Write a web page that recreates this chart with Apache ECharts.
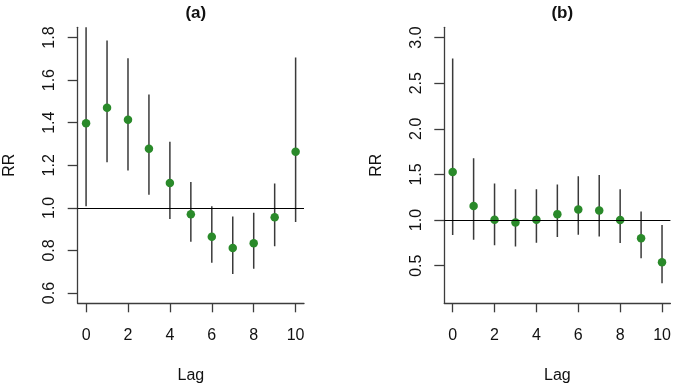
<!DOCTYPE html>
<html><head><meta charset="utf-8">
<script src="https://cdn.jsdelivr.net/npm/echarts@6/dist/echarts.min.js"></script>
<style>html,body{margin:0;padding:0;background:#fff}#c{width:673px;height:385px}</style>
</head><body><div id="c"></div>
<script>
const lags = [0,1,2,3,4,5,6,7,8,9,10];
const rrA = [1.397,1.470,1.414,1.278,1.117,0.970,0.864,0.812,0.834,0.956,1.264];
const loA = [1.008,1.214,1.176,1.062,0.948,0.841,0.742,0.689,0.714,0.820,0.934];
const hiA = [1.930,1.786,1.703,1.533,1.311,1.122,1.008,0.959,0.977,1.115,1.706];
const rrB = [1.527,1.153,1.003,0.974,1.003,1.065,1.116,1.105,1.000,0.800,0.537];
const loB = [0.836,0.785,0.723,0.709,0.752,0.814,0.840,0.821,0.749,0.581,0.308];
const hiB = [2.769,1.677,1.400,1.338,1.338,1.389,1.480,1.495,1.338,1.094,0.945];
const xTicks = [0,2,4,6,8,10];
const yTicksA = [0.6,0.8,1.0,1.2,1.4,1.6,1.8];
const yTicksB = [0.5,1.0,1.5,2.0,2.5,3.0];
const titles = ['(a)','(b)'];

const FONT = "'Liberation Sans', Arial, sans-serif";
const AX = '#3c3c3c';
const chart = echarts.init(document.getElementById('c'), null, {renderer:'canvas'});

function xAxis(gi){
  return {
    gridIndex: gi, type:'value', min:-0.4, max:10.4,
    name:'Lag', nameLocation:'middle', nameGap:64,
    nameTextStyle:{fontFamily:FONT, fontSize:16, color:'#111'},
    axisLine:{show:true, onZero:false, lineStyle:{color:AX, width:1.3}},
    axisTick:{show:true, length:9, customValues:xTicks, lineStyle:{color:AX, width:1.3}},
    axisLabel:{show:true, customValues:xTicks, margin:24, fontFamily:FONT, fontSize:16, color:'#111',
      formatter:v=>String(v)},
    splitLine:{show:false}
  };
}
function yAxis(gi, lo, hi, ticks){
  const pad = (hi-lo)*0.04;
  return {
    gridIndex: gi, type:'value', min:lo-pad, max:hi+pad,
    name:'RR', nameLocation:'middle', nameGap:60, nameRotate:90,
    nameTextStyle:{fontFamily:FONT, fontSize:16, color:'#111'},
    axisLine:{show:true, onZero:false, lineStyle:{color:AX, width:1.3}},
    axisTick:{show:true, length:10, customValues:ticks, lineStyle:{color:AX, width:1.3}},
    axisLabel:{show:true, customValues:ticks, rotate:90, margin:20, fontFamily:FONT, fontSize:16, color:'#111',
      formatter:v=>v.toFixed(1)},
    splitLine:{show:false}
  };
}
function errSeries(gi, lo, hi){
  return {
    type:'custom', xAxisIndex:gi, yAxisIndex:gi, clip:true, z:2,
    data: lags.map((l,i)=>[l, lo[i], hi[i]]),
    renderItem:(params, api)=>{
      const p1 = api.coord([api.value(0), api.value(1)]);
      const p2 = api.coord([api.value(0), api.value(2)]);
      return {type:'line', shape:{x1:p1[0], y1:p1[1], x2:p2[0], y2:p2[1]},
        style:{stroke:'#3a3a3a', lineWidth:1.5}};
    }
  };
}
function ptSeries(gi, rr){
  return {
    type:'scatter', xAxisIndex:gi, yAxisIndex:gi, z:4,
    symbol:'circle', symbolSize:8.5,
    itemStyle:{color:'#2a8a2a', opacity:1},
    data: lags.map((l,i)=>[l, rr[i]]),
    markLine:{silent:true, symbol:'none', label:{show:false}, animation:false,
      lineStyle:{color:'#000', width:1.2, type:'solid'},
      data:[{yAxis:1}]}
  };
}

chart.setOption({
  animation:false,
  backgroundColor:'#fff',
  title:[
    {text:titles[0], left:190.8, top:0, textAlign:'center', textStyle:{fontFamily:FONT, fontSize:17, fontWeight:'bold', color:'#111'}},
    {text:titles[1], left:557.3, top:0, textAlign:'center', textStyle:{fontFamily:FONT, fontSize:17, fontWeight:'bold', color:'#111'}}
  ],
  grid:[
    {left:77.7, top:27.3, width:226.3, height:276, containLabel:false, outerBoundsMode:'none'},
    {left:444.3, top:27.3, width:226.1, height:276, containLabel:false, outerBoundsMode:'none'}
  ],
  xAxis:[xAxis(0), xAxis(1)],
  yAxis:[yAxis(0, 0.6, 1.8, yTicksA), yAxis(1, 0.2, 3.0, yTicksB)],
  series:[errSeries(0, loA, hiA), ptSeries(0, rrA), errSeries(1, loB, hiB), ptSeries(1, rrB)]
});
</script>
</body></html>
